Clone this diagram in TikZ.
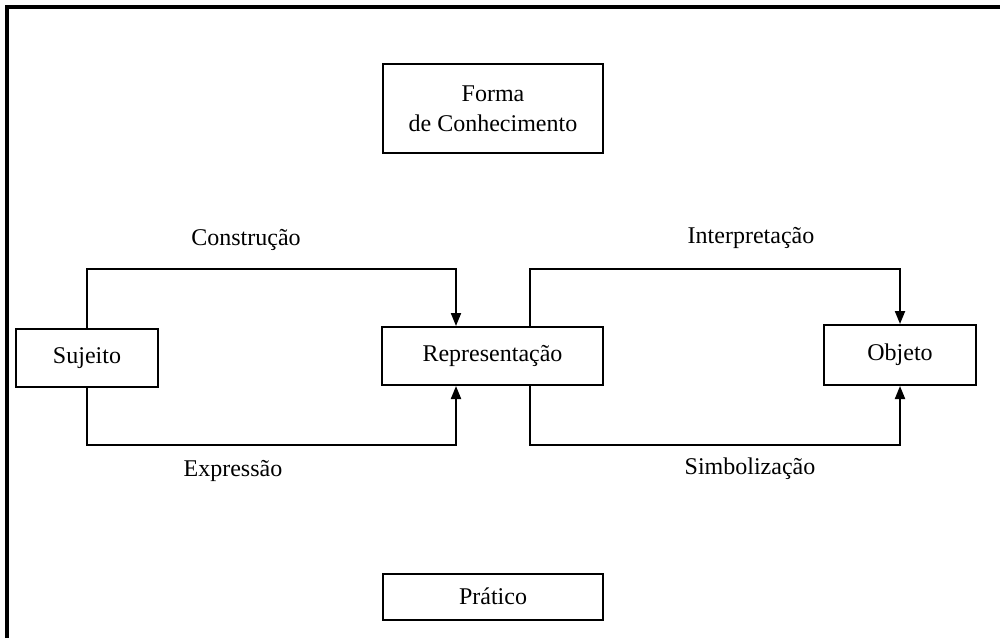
\documentclass[tikz,border=0pt]{standalone}
\usepackage{fontspec}
\setmainfont{Liberation Serif}
\usetikzlibrary{arrows.meta}

\begin{document}
\begin{tikzpicture}
[x=0.5pt,y=-0.5pt,%
  every node/.style={font=\fontsize{12pt}{15pt}\selectfont},%
  caixa/.style={shape=rectangle,draw,line width=1pt,inner sep=0pt,align=center},%
  seta/.style={line width=1pt,-{Triangle[length=6.5pt,width=5pt]}}]
\useasboundingbox (0,0) rectangle (1000,638);
% moldura
\draw[line width=1.6pt] (7,638) -- (7,7) -- (1000,7);
% caixas
\node[caixa,minimum width=110pt,minimum height=44.5pt] (forma) at (493,108.5) {Forma\\de Conhecimento};
\node[caixa,minimum width=71pt,minimum height=29pt] (sujeito) at (87,358) {Sujeito};
\node[caixa,minimum width=110.5pt,minimum height=29pt] (repr) at (492.5,356) {Representação};
\node[caixa,minimum width=76pt,minimum height=30pt] (objeto) at (900,355) {Objeto};
\node[caixa,minimum width=110pt,minimum height=23pt] (pratico) at (493,596.5) {Prático};
% cantos
\coordinate (c1) at (456,269);
\coordinate (c2) at (530,269);
\coordinate (c3) at (900,269);
\coordinate (c4) at (456,445);
\coordinate (c5) at (530,445);
\coordinate (c6) at (900,445);
% setas
\draw[seta] (sujeito.north) |- (c1) -- (c1 |- repr.north);
\draw[seta] (sujeito.south) |- (c4) -- (c4 |- repr.south);
\draw[seta] (c2 |- repr.north) -- (c2) -- (c3) -- (objeto.north);
\draw[seta] (c5 |- repr.south) -- (c5) -- (c6) -- (objeto.south);
% rotulos
\node (constr) at (246,240) {Construção};
\node (expr) at (233,471) {Expressão};
\node (interp) at (751,238) {Interpretação};
\node (simb) at (750,469) {Simbolização};
\end{tikzpicture}
\end{document}
